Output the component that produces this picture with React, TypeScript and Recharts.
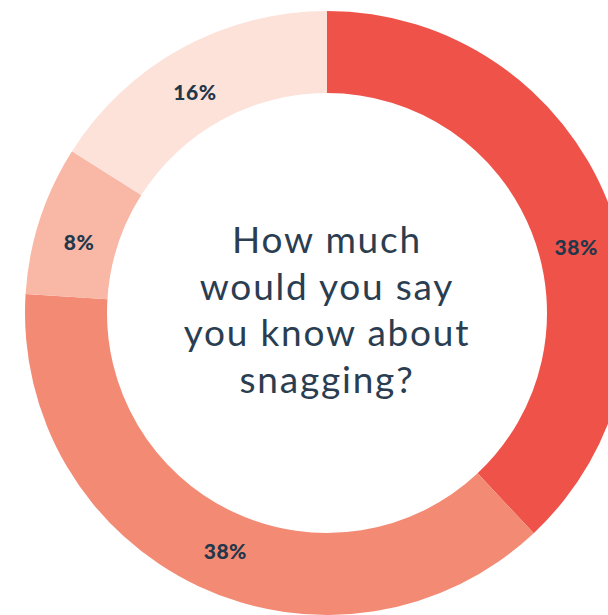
import { PieChart, Pie, Cell, Label } from 'recharts'

const answers = ['A lot', 'A little', 'Not much', 'Nothing']
const shares = [38, 38, 8, 16]
const colors = ['#EF5249', '#F38A74', '#F9B7A6', '#FDE2D9']
const questionLines = ['How much', 'would you say', 'you know about', 'snagging?']

const data = answers.map((name, i) => ({ name, value: shares[i] }))

const RADIAN = Math.PI / 180
const FONT = 'Lato, "Open Sans", sans-serif'
const CX = 327
const CY = 313

function renderLabel(props: any) {
  const { cx, cy, midAngle, innerRadius, outerRadius, value, index } = props
  // first label sits a bit lower in the original so it stays inside the crop
  const angle = index === 0 ? midAngle - 6.6 : midAngle + 2
  const r = innerRadius + (outerRadius - innerRadius) / 2 - 3
  const x = cx + r * Math.cos(-angle * RADIAN)
  const y = cy + r * Math.sin(-angle * RADIAN)
  return (
    <text
      x={x}
      y={y}
      textAnchor="middle"
      dominantBaseline="central"
      fill="#23374B"
      fontFamily={FONT}
      fontSize={21}
      fontWeight={900}
      letterSpacing={0.5}
    >
      {value}%
    </text>
  )
}

function CenterText() {
  const lineHeight = 46.7
  const top = CY - 60
  return (
    <text textAnchor="middle" fill="#2B3E51" fontFamily={FONT} fontSize={37} fontWeight={400} letterSpacing={1.8}>
      {questionLines.map((line, i) => (
        <tspan key={line} x={CX} y={top + i * lineHeight}>
          {line}
        </tspan>
      ))}
    </text>
  )
}

export default function App() {
  return (
    <div style={{ position: 'absolute', left: 0, top: 0, width: 608, height: 615, overflow: 'hidden', background: '#fff' }}>
      <PieChart width={608} height={615} margin={{ top: 0, right: 0, bottom: 0, left: 0 }}>
        <Pie
          data={data}
          dataKey="value"
          nameKey="name"
          cx={CX}
          cy={CY}
          innerRadius={220}
          outerRadius={302}
          startAngle={90}
          endAngle={-270}
          stroke="none"
          label={renderLabel}
          labelLine={false}
          isAnimationActive={false}
        >
          {data.map((d, i) => (
            <Cell key={d.name} fill={colors[i]} />
          ))}
          <Label position="center" content={<CenterText />} />
        </Pie>
      </PieChart>
    </div>
  )
}
